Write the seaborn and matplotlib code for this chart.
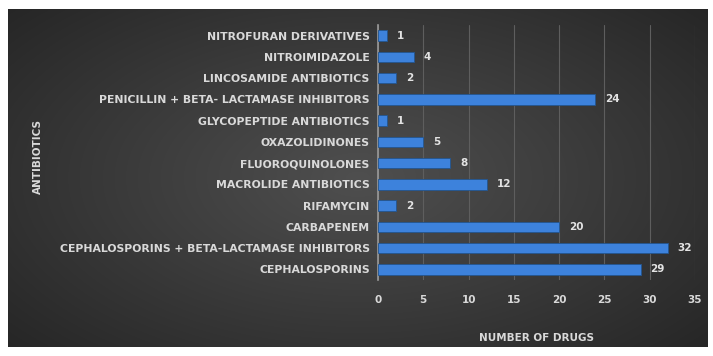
import numpy as np
import pandas as pd
import matplotlib
matplotlib.use("Agg")
import matplotlib.pyplot as plt
import seaborn as sns

categories = [
    "NITROFURAN DERIVATIVES",
    "NITROIMIDAZOLE",
    "LINCOSAMIDE ANTIBIOTICS",
    "PENICILLIN + BETA- LACTAMASE INHIBITORS",
    "GLYCOPEPTIDE ANTIBIOTICS",
    "OXAZOLIDINONES",
    "FLUOROQUINOLONES",
    "MACROLIDE ANTIBIOTICS",
    "RIFAMYCIN",
    "CARBAPENEM",
    "CEPHALOSPORINS + BETA-LACTAMASE INHIBITORS",
    "CEPHALOSPORINS",
]
counts = [1, 4, 2, 24, 1, 5, 8, 12, 2, 20, 32, 29]
x_ticks = [0, 5, 10, 15, 20, 25, 30, 35]

df = pd.DataFrame({"Antibiotics": categories, "Drugs": counts})

sns.set_theme(style="white")
plt.rcParams["font.family"] = ["DejaVu Sans"]

W, H = 713, 356
fig = plt.figure(figsize=(W / 100, H / 100), dpi=100, facecolor="white")

# dark radial-gradient panel behind the chart
bg = fig.add_axes([8 / W, 9 / H, 700 / W, 338 / H], zorder=0)
gx, gy = np.meshgrid(np.linspace(-1, 1, 700), np.linspace(-1, 1, 338))
r = np.clip(np.sqrt(gx ** 2 + (gy * 0.9) ** 2) / 1.35, 0, 1)
shade = 0.31 - 0.16 * r
bg.imshow(np.dstack([shade, shade, shade]), aspect="auto", extent=[0, 1, 0, 1])
bg.set_axis_off()

ax = fig.add_axes([378 / W, 1 - 280 / H, 317 / W, 255 / H], zorder=1)
ax.patch.set_alpha(0)

sns.barplot(data=df, x="Drugs", y="Antibiotics", color="#3d82dc",
            saturation=1, width=0.5, ax=ax, zorder=3,
            edgecolor="#23558f", linewidth=0.6)

ax.bar_label(ax.containers[0], labels=[str(v) for v in counts], padding=7,
             color="#e3e3e3", fontsize=7.5, fontweight="bold")

ax.set_xlim(0, 35)
ax.set_xticks(x_ticks)
ax.set_xticklabels([str(t) for t in x_ticks], color="#d9d9d9", fontsize=7.5,
                   fontweight="bold")
ax.tick_params(axis="x", length=0, pad=11)
ax.tick_params(axis="y", length=0, pad=6, labelsize=7.8, labelcolor="#d9d9d9")
for lbl in ax.get_yticklabels():
    lbl.set_fontweight("bold")

ax.grid(axis="x", color="#5e5e5e", linewidth=0.8, zorder=0)
ax.set_axisbelow(True)
for side in ["top", "right", "bottom"]:
    ax.spines[side].set_visible(False)
ax.spines["left"].set_color("#9a9a9a")
ax.spines["left"].set_linewidth(1.2)

ax.set_xlabel("NUMBER OF DRUGS", color="#d9d9d9", fontsize=7.5,
              fontweight="bold", labelpad=20)
ax.set_ylabel("")
fig.text(38 / W, 1 - 157 / H, "ANTIBIOTICS", rotation=90, color="#d9d9d9",
         fontsize=7.5, fontweight="bold", ha="center", va="center")

fig.savefig("out.png", dpi=100, facecolor="white")
